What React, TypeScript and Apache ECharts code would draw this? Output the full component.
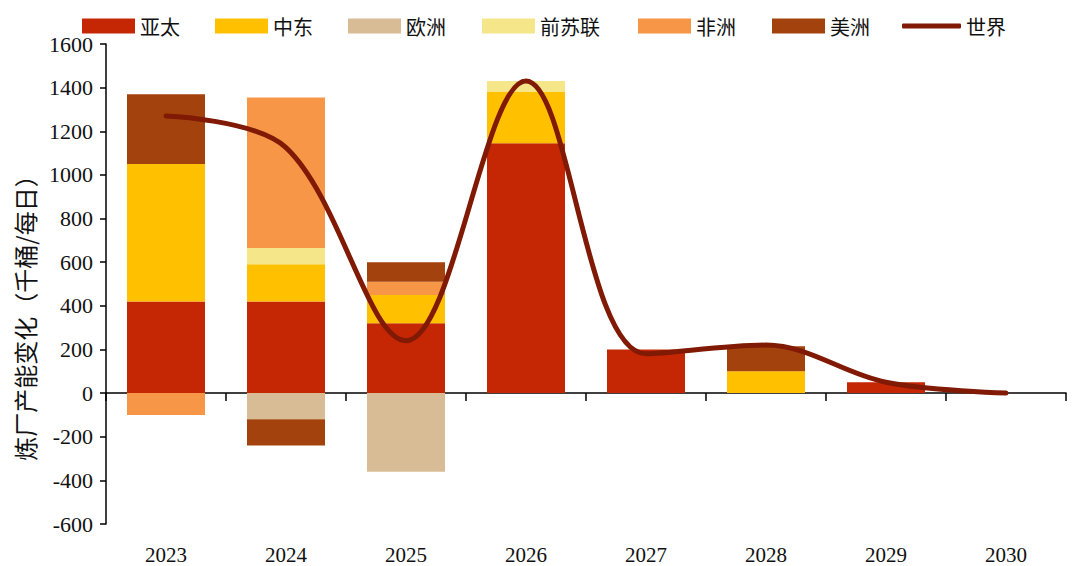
import React, { useEffect, useRef } from "react";
import * as echarts from "echarts";

const years = ["2023", "2024", "2025", "2026", "2027", "2028", "2029", "2030"];
const asiaPacific = [420, 420, 320, 1145, 200, null, 50, null];
const middleEast = [630, 170, 130, 235, null, 100, null, null];
const europe = [null, -120, -360, null, null, null, null, null];
const formerUSSR = [null, 75, null, 50, null, null, null, null];
const africa = [-100, 690, 60, null, null, null, null, null];
const americas = [320, -120, 90, null, null, 115, null, null];
const world = [1270, 1125, 240, 1430, 180, 220, 50, 0];

const yTicks = { min: -600, max: 1600, interval: 200 };
const yAxisName = "炼厂产能变化（千桶/每日）";

const colors = {
  asia: "#C52603",
  me: "#FFC000",
  eu: "#D8BC95",
  ussr: "#F5E68A",
  af: "#F79646",
  am: "#A3420C",
  world: "#801A04",
};

const serif = "'Liberation Serif', 'DejaVu Serif', serif";
const cjk = "'Noto Sans CJK SC', sans-serif";

export default function App() {
  const ref = useRef<HTMLDivElement>(null);
  useEffect(() => {
    if (!ref.current) return;
    const chart = echarts.init(ref.current, undefined, { renderer: "svg" });
    const barNames = [
      ["亚太", asiaPacific, colors.asia],
      ["中东", middleEast, colors.me],
      ["欧洲", europe, colors.eu],
      ["前苏联", formerUSSR, colors.ussr],
      ["非洲", africa, colors.af],
      ["美洲", americas, colors.am],
    ] as const;
    const legendLefts = [77, 210, 343, 477, 633, 767];
    const legends: any[] = barNames.map((b, i) => ({
      data: [b[0]],
      left: legendLefts[i],
      top: 11,
      itemWidth: 53,
      itemHeight: 15,
      icon: "rect",
      textStyle: { fontFamily: cjk, fontSize: 20, color: "#111" },
      selectedMode: false,
    }));
    legends.push({
      data: [{ name: "世界", icon: "roundRect" }],
      left: 897,
      top: 11,
      itemWidth: 59,
      itemHeight: 5,
      itemStyle: { color: colors.world },
      textStyle: { fontFamily: cjk, fontSize: 20, color: "#111" },
      selectedMode: false,
    });
    chart.setOption({
      animation: false,
      legend: legends,
      grid: { left: 106, right: 6, top: 44, bottom: 42, containLabel: false },
      xAxis: [
        {
          type: "category",
          data: years,
          axisLine: { onZero: true, lineStyle: { color: "#000", width: 1.5 } },
          axisTick: { show: true, length: 8, lineStyle: { color: "#000", width: 1.5 } },
          axisLabel: { show: false },
        },
        {
          type: "category",
          data: years,
          position: "bottom",
          axisLine: { show: false, onZero: false },
          axisTick: { show: false },
          axisLabel: { margin: 20, fontFamily: serif, fontSize: 21, color: "#111" },
        },
      ],
      yAxis: {
        type: "value",
        min: yTicks.min,
        max: yTicks.max,
        interval: yTicks.interval,
        splitLine: { show: false },
        axisLine: { show: true, lineStyle: { color: "#000", width: 1.5 } },
        axisTick: { show: true, length: 6, lineStyle: { color: "#000", width: 1.5 } },
        axisLabel: {
          margin: 13,
          fontFamily: serif,
          fontSize: 22,
          color: "#111",
          formatter: (v: number) => String(v),
        },
      },
      graphic: [
        {
          type: "text",
          x: 24,
          y: 312,
          rotation: Math.PI / 2,
          style: {
            text: yAxisName,
            fontFamily: cjk,
            fontSize: 24,
            fill: "#111",
            textAlign: "center",
            textVerticalAlign: "middle",
          },
        },
      ],
      series: [
        ...barNames.map((b) => ({
          name: b[0],
          type: "bar",
          stack: "total",
          xAxisIndex: 0,
          barWidth: 78,
          data: b[1],
          itemStyle: { color: b[2] },
        })),
        {
          name: "世界",
          type: "line",
          xAxisIndex: 0,
          data: world,
          smooth: 0.35,
          symbol: "none",
          lineStyle: { color: colors.world, width: 5, cap: "round" },
          itemStyle: { color: colors.world },
          z: 5,
        },
      ],
    });
    return () => chart.dispose();
  }, []);
  return (
    <div
      ref={ref}
      style={{ position: "fixed", left: 0, top: 0, width: 1072, height: 566, background: "#fff" }}
    />
  );
}
